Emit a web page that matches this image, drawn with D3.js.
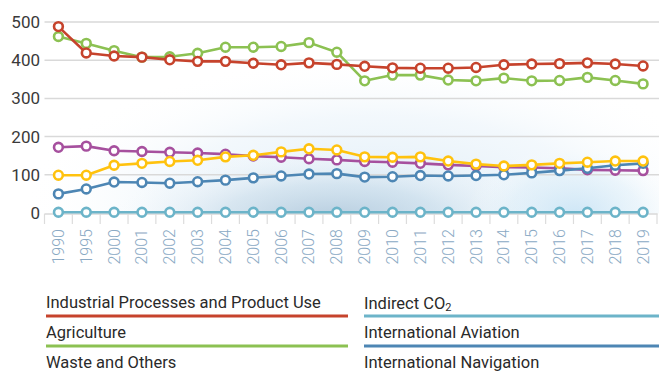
<!DOCTYPE html>
<html>
<head>
<meta charset="utf-8">
<script src="https://cdn.jsdelivr.net/npm/d3@7"></script>
<style>
  html, body { margin: 0; padding: 0; background: #fff; }
  svg { display: block; }
</style>
</head>
<body>
<svg id="chart" width="659" height="372"></svg>
<script>
const years = ["1990","1995","2000","2001","2002","2003","2004","2005","2006","2007","2008","2009","2010","2011","2012","2013","2014","2015","2016","2017","2018","2019"];
const yTicks = [0, 100, 200, 300, 400, 500];

const industrial  = [488,419,411,408,401,397,397,392,388,393,389,384,380,379,379,381,388,390,391,393,390,385];
const agriculture = [462,444,425,408,409,418,434,434,436,446,421,346,361,361,348,346,353,346,347,355,347,338];
const waste       = [172,175,163,161,159,157,154,149,146,142,139,135,133,130,126,123,120,119,117,113,112,111];
const indirectCO2 = [2,2,2,2,2,2,2,2,2,2,2,2,2,2,2,2,2,2,2,2,2,2];
const aviation    = [50,63,81,80,78,82,86,92,97,102,103,94,95,98,97,98,100,105,111,117,125,130];
const navigation  = [99,99,125,130,135,138,147,151,160,168,165,147,146,147,136,128,123,126,130,133,136,136];

const seriesNames = ["Industrial Processes and Product Use","Agriculture","Waste and Others","Indirect CO2","International Aviation","International Navigation"];
const seriesColors = ["#c6432c","#8cc152","#a6509e","#6cb4c9","#4d86b4","#ffc20e"];

const series = [
  {name: seriesNames[0], values: industrial,  color: seriesColors[0]},
  {name: seriesNames[1], values: agriculture, color: seriesColors[1]},
  {name: seriesNames[2], values: waste,       color: seriesColors[2]},
  {name: seriesNames[3], values: indirectCO2, color: seriesColors[3]},
  {name: seriesNames[4], values: aviation,    color: seriesColors[4]},
  {name: seriesNames[5], values: navigation,  color: seriesColors[5]}
];
const drawOrder = [3, 2, 4, 1, 5, 0];

const svg = d3.select("#chart");
const FONT = "Roboto, 'Open Sans', sans-serif";

const x = d3.scaleBand().domain(years).range([44.5, 657]);
const y = d3.scaleLinear().domain([0, 500]).range([213, 22]);
const cx = d => x(d) + x.bandwidth() / 2;

// background glow
const defs = svg.append("defs");
function radial(id, stops) {
  const g = defs.append("radialGradient").attr("id", id);
  stops.forEach(s => g.append("stop").attr("offset", s[0]).attr("stop-color", s[1]).attr("stop-opacity", s[2]));
}
radial("glowWide", [[0, "#d3e6f4", 0.75], [0.6, "#e4f0f9", 0.45], [1, "#ffffff", 0]]);
radial("glowCore", [[0, "#a9c2d6", 0.85], [0.5, "#c3d8e7", 0.5], [1, "#ffffff", 0]]);
radial("glowRight", [[0, "#c4e1f4", 0.8], [0.6, "#d8ecf8", 0.4], [1, "#ffffff", 0]]);
svg.append("ellipse").attr("cx", 380).attr("cy", 205).attr("rx", 360).attr("ry", 150).attr("fill", "url(#glowWide)");
svg.append("ellipse").attr("cx", 330).attr("cy", 222).attr("rx", 230).attr("ry", 75).attr("fill", "url(#glowCore)");
svg.append("ellipse").attr("cx", 575).attr("cy", 215).attr("rx", 110).attr("ry", 70).attr("fill", "url(#glowRight)");
svg.append("rect").attr("x", 0).attr("y", 213.5).attr("width", 659).attr("height", 160).attr("fill", "#fff");

// gridlines
svg.append("g").selectAll("line").data(yTicks.filter(t => t > 0)).join("line")
  .attr("x1", 44.5).attr("x2", 659)
  .attr("y1", d => y(d)).attr("y2", d => y(d))
  .attr("stroke", "#d9d9d9").attr("stroke-width", 1.5);

// y labels
svg.append("g").selectAll("text").data(yTicks).join("text")
  .attr("x", 40).attr("y", d => y(d))
  .attr("text-anchor", "end").attr("dominant-baseline", "central")
  .attr("font-family", FONT).attr("font-size", 17).attr("fill", "#3a3a3a")
  .text(d => d);

// x axis
const xAxis = svg.append("g").attr("transform", "translate(0,213.5)")
  .call(d3.axisBottom(x).tickSize(0).tickFormat(""));
xAxis.select(".domain").attr("stroke", "#d9d9d9").attr("stroke-width", 1.5);
const bounds = years.map(d => x(d)).concat([x.range()[1]]);
svg.append("g").selectAll("line").data(bounds).join("line")
  .attr("x1", d => d).attr("x2", d => d)
  .attr("y1", 213.5).attr("y2", 224)
  .attr("stroke", "#dcdcdc").attr("stroke-width", 1.2);
svg.append("g").selectAll("text").data(years).join("text")
  .attr("transform", d => `translate(${cx(d)},229) rotate(-90)`)
  .attr("text-anchor", "end").attr("dominant-baseline", "central")
  .attr("font-family", FONT).attr("font-size", 16).attr("font-weight", 300)
  .attr("fill", "#8aa9c4")
  .text(d => d);

// lines and markers
const line = d3.line().x((v, i) => cx(years[i])).y(v => y(v));
drawOrder.forEach(k => {
  const s = series[k];
  const g = svg.append("g");
  g.append("path").attr("d", line(s.values))
    .attr("fill", "none").attr("stroke", s.color).attr("stroke-width", 2.6)
    .attr("stroke-linejoin", "round");
  g.selectAll("circle").data(s.values).join("circle")
    .attr("cx", (v, i) => cx(years[i])).attr("cy", v => y(v))
    .attr("r", 4.4).attr("fill", "#fff")
    .attr("stroke", s.color).attr("stroke-width", 2.6);
});

// legend
const legX = [46, 364], legW = [302, 295];
const rowY = [302.5, 332.5, 362];
series.forEach((s, i) => {
  const col = Math.floor(i / 3), row = i % 3;
  const g = svg.append("g");
  const t = g.append("text")
    .attr("x", legX[col]).attr("y", rowY[row])
    .attr("dominant-baseline", "central")
    .attr("font-family", FONT).attr("font-size", 16.5).attr("fill", "#2a2a2a");
  if (s.name === "Indirect CO2") {
    t.append("tspan").text("Indirect CO");
    t.append("tspan").attr("font-size", 11).attr("dy", 4).text("2");
  } else {
    t.text(s.name);
  }
  g.append("line")
    .attr("x1", legX[col]).attr("x2", legX[col] + legW[col])
    .attr("y1", rowY[row] + 13.5).attr("y2", rowY[row] + 13.5)
    .attr("stroke", s.color).attr("stroke-width", 3);
});
</script>
</body>
</html>
